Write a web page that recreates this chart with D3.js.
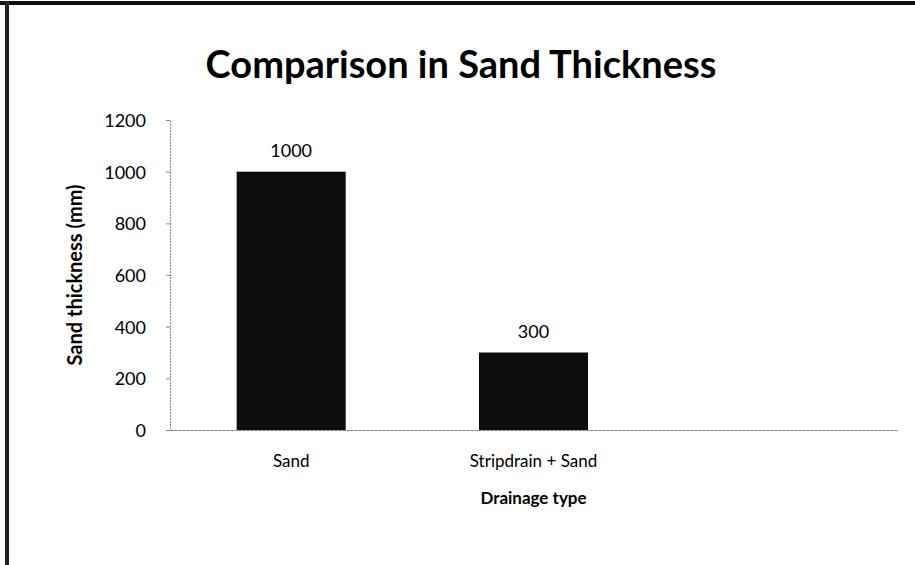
<!DOCTYPE html>
<html><head><meta charset="utf-8">
<script src="https://cdn.jsdelivr.net/npm/d3@7"></script>
<style>body{margin:0;background:#fff}svg{display:block}text{font-family:Lato,"Open Sans",sans-serif;fill:#000}</style>
</head><body><svg id="c" width="915" height="565"></svg>
<script>
const categories = ["Sand", "Stripdrain + Sand", ""];
const values = [1000, 300, null];
const yTicks = [0, 200, 400, 600, 800, 1000, 1200];
const title = "Comparison in Sand Thickness";
const xTitle = "Drainage type";
const yTitle = "Sand thickness (mm)";

const svg = d3.select("#c");
const W = 915, H = 565;
const m = {left: 170, right: 18, top: 120, bottom: 135};

// frame (top and left edges)
svg.append("rect").attr("x", 0).attr("y", 1).attr("width", W).attr("height", 4).attr("fill", "#111");
svg.append("rect").attr("x", 5).attr("y", 1).attr("width", 4).attr("height", H).attr("fill", "#222");

const x = d3.scaleBand().domain(categories.map((d,i)=>i)).range([m.left, W - m.right]).paddingInner(0.55).paddingOuter(0.275);
const y = d3.scaleLinear().domain([0, 1200]).range([H - m.bottom, m.top]);

// bars
const data = categories.map((c,i)=>({c, i, v: values[i]})).filter(d=>d.v!=null);
svg.append("g").selectAll("rect").data(data).join("rect")
  .attr("x", d=>x(d.i)).attr("width", x.bandwidth())
  .attr("y", d=>y(d.v)).attr("height", d=>y(0)-y(d.v))
  .attr("fill", "#0d0d0d");

// y axis
const ya = svg.append("g").attr("transform", `translate(${m.left},0)`)
  .call(d3.axisLeft(y).tickValues(yTicks).tickFormat(d3.format("d")).tickSize(4).tickPadding(20));
ya.select(".domain").attr("stroke", "#888").attr("stroke-dasharray", "2,1");
ya.selectAll(".tick line").attr("stroke", "#888");
ya.selectAll(".tick text").attr("font-size", 18).attr("font-family", "Lato,sans-serif").attr("dy", "0.36em");

// x axis
const xa = svg.append("g").attr("transform", `translate(0,${y(0)})`)
  .call(d3.axisBottom(x).tickFormat(i=>categories[i]).tickSize(0).tickPadding(25));
xa.select(".domain").attr("stroke", "#777").attr("stroke-dasharray", "3,1");
xa.selectAll(".tick text").attr("font-size", 17).attr("font-family", "Lato,sans-serif");

// data labels
svg.append("g").selectAll("text").data(data).join("text")
  .attr("x", d=>x(d.i)+x.bandwidth()/2).attr("y", d=>y(d.v)-15)
  .attr("text-anchor", "middle").attr("font-size", 18).text(d=>d.v);

// title
svg.append("text").attr("x", 461).attr("y", 78).attr("text-anchor", "middle")
  .attr("font-size", 38).attr("font-weight", "bold").text(title);

// axis titles
svg.append("text").attr("x", (m.left + W - m.right)/2).attr("y", 504).attr("text-anchor", "middle")
  .attr("font-size", 17).attr("font-weight", "bold").text(xTitle);
svg.append("text").attr("transform", `translate(82,${(y(0)+y(1200))/2}) rotate(-90)`)
  .attr("text-anchor", "middle").attr("font-size", 20).attr("font-weight", "bold").text(yTitle);
</script></body></html>
